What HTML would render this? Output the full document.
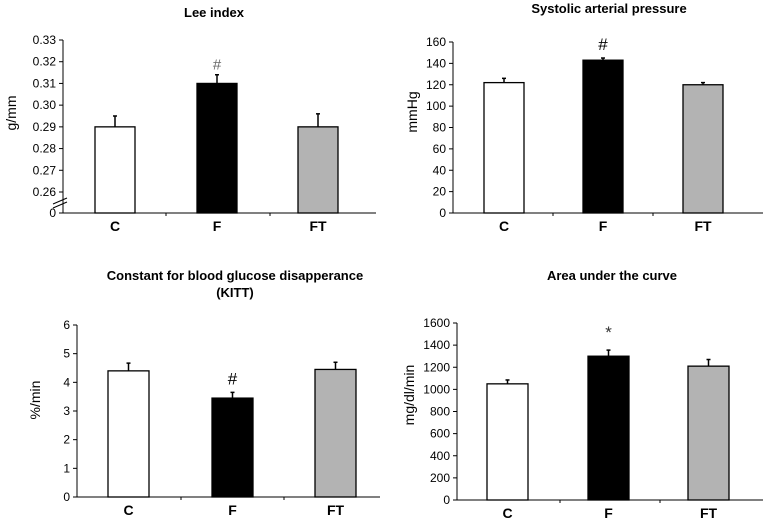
<!DOCTYPE html>
<html><head><meta charset="utf-8"><style>
html,body{margin:0;padding:0;background:#fff;}
svg{display:block;font-family:"Liberation Sans",Arial,sans-serif;}
</style></head><body>
<svg id="chart" width="763" height="520" viewBox="0 0 763 520" xmlns="http://www.w3.org/2000/svg"></svg>
<script>
const categories = ["C","F","FT"];
const leeValues = [0.290, 0.310, 0.290];
const leeErrors = [0.005, 0.004, 0.006];
const leeTicks = ["0.26","0.27","0.28","0.29","0.30","0.31","0.32","0.33"];
const sapValues = [122, 143, 120];
const sapErrors = [4, 2, 2];
const sapTicks = [0,20,40,60,80,100,120,140,160];
const kittValues = [4.4, 3.45, 4.45];
const kittErrors = [0.27, 0.2, 0.25];
const kittTicks = [0,1,2,3,4,5,6];
const aucValues = [1050, 1300, 1210];
const aucErrors = [35, 55, 60];
const aucTicks = [0,200,400,600,800,1000,1200,1400,1600];
const marks = ["", "#", ""];
const aucMarks = ["", "*", ""];
const fills = ["#ffffff","#000000","#b3b3b3"];

const svg = document.getElementById('chart');
const NS = 'http://www.w3.org/2000/svg';
function mk(tag, attrs, text){
  const e = document.createElementNS(NS, tag);
  for (const k in attrs) e.setAttribute(k, attrs[k]);
  if (text !== undefined) e.textContent = text;
  svg.appendChild(e);
  return e;
}

function panel(p){
  const yScale = p.yScale || (v => p.y0 - (v - p.min) / (p.max - p.min) * (p.y0 - p.yTop));
  let t;
  p.titles.forEach((s, i) => {
    t = mk('text', {x:p.titleX, y:p.titleY + i*17, 'text-anchor':'middle', 'font-size':'13', 'font-weight':'bold'}, s);
    
    
  });
  t = mk('text', {x:0, y:0, 'text-anchor':'middle', 'font-size':'14', transform:`translate(${p.ylabX},${p.ylabY}) rotate(-90)`}, p.ylabel);
  
  
  let l = mk('line', {x1:p.axisX, y1:p.yTop, x2:p.axisX, y2:p.y0, stroke:'#000', 'stroke-width':1});
  
  
  l = mk('line', {x1:p.axisX, y1:p.y0, x2:p.axisEnd, y2:p.y0, stroke:'#000', 'stroke-width':1});
  
  
  p.seps.forEach(sx => {
    const s = mk('line', {x1:sx, y1:p.y0, x2:sx, y2:p.y0+3, stroke:'#000'});
    
    
  });
  p.tickVals.forEach((v, i) => {
    const y = p.tickY ? p.tickY(v) : yScale(v);
    const tk = mk('line', {x1:p.axisX-4, y1:y, x2:p.axisX, y2:y, stroke:'#000'});
    
    
    const tl = mk('text', {x:p.axisX-7, y:y+4, 'text-anchor':'end', 'font-size':'12'}, p.tickLabels[i]);
    
    
  });
  categories.forEach((c, i) => {
    const x = p.barX[i], w = p.barW;
    const top = yScale(p.values[i]);
    const eTop = yScale(p.values[i] + p.errors[i]);
    const cx = x + w/2;
    const el = mk('line', {x1:cx, y1:top, x2:cx, y2:eTop, stroke:'#000', 'stroke-width':1.5});
    
    
    const ec = mk('line', {x1:cx-2, y1:eTop, x2:cx+2, y2:eTop, stroke:'#000', 'stroke-width':1.5});
    
    
    const r = mk('rect', {x:x, y:top, width:w, height:p.y0-top, fill:fills[i], stroke:'#000', 'stroke-width':1.3});
    
    
    const lbl = mk('text', {x:cx, y:p.y0+18, 'text-anchor':'middle', 'font-size':'14', 'font-weight':'bold'}, c);
    
    
    if (p.marks[i]) {
      const m = mk('text', {x:cx, y:eTop-p.markGap, 'text-anchor':'middle', 'font-size':p.markSize, fill:p.markColor}, p.marks[i]);
      
      
    }
  });
}

const leeMin = 0.26, leeMax = 0.33;
panel({
  id:'lee', axisX:63, axisEnd:376, y0:213, yTop:40, min:leeMin, max:leeMax,
  yScale: v => 192 - (v - leeMin)/(leeMax - leeMin)*152,
  tickVals:[0].concat(leeTicks.map(Number)), tickLabels:["0"].concat(leeTicks),
  tickY: v => v === 0 ? 213 : 192 - (v - leeMin)/(leeMax - leeMin)*152,
  values:leeValues, errors:leeErrors, barX:[95,197,298], barW:40, seps:[166,270],
  marks:marks, markGap:5, markSize:'15', markColor:'#666',
  titles:["Lee index"], titleX:214, titleY:17, ylabel:"g/mm", ylabX:16, ylabY:113
});
let bk = mk('line', {x1:53, y1:204, x2:67, y2:198, stroke:'#000'});


bk = mk('line', {x1:53, y1:208, x2:67, y2:202, stroke:'#000'});



panel({
  id:'sap', axisX:453, axisEnd:763, y0:213, yTop:42, min:0, max:160,
  tickVals:sapTicks, tickLabels:sapTicks.map(String),
  values:sapValues, errors:sapErrors, barX:[484,583,683], barW:40, seps:[553,653],
  marks:marks, markGap:8, markSize:'17', markColor:'#000',
  titles:["Systolic arterial pressure"], titleX:609, titleY:13, ylabel:"mmHg", ylabX:417, ylabY:112
});

panel({
  id:'kitt', axisX:77, axisEnd:380, y0:497, yTop:325, min:0, max:6,
  tickVals:kittTicks, tickLabels:kittTicks.map(String),
  values:kittValues, errors:kittErrors, barX:[108,212,315], barW:41, seps:[181,284],
  marks:marks, markGap:8, markSize:'17', markColor:'#000',
  titles:["Constant for blood glucose disapperance","(KITT)"], titleX:235, titleY:280, ylabel:"%/min", ylabX:40, ylabY:400
});

panel({
  id:'auc', axisX:457, axisEnd:763, y0:500, yTop:323, min:0, max:1600,
  tickVals:aucTicks, tickLabels:aucTicks.map(String),
  values:aucValues, errors:aucErrors, barX:[487,588,688], barW:41, seps:[560,660],
  marks:aucMarks, markGap:12, markSize:'17', markColor:'#333',
  titles:["Area under the curve"], titleX:612, titleY:280, ylabel:"mg/dl/min", ylabX:414, ylabY:395
});
</script>
</body></html>
